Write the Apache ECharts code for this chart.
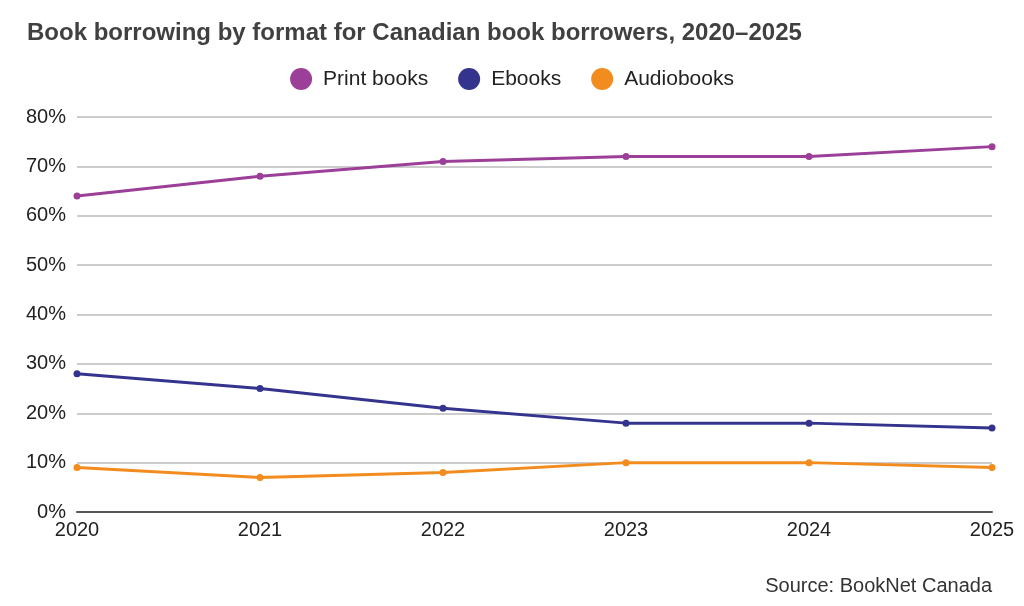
<!DOCTYPE html>
<html>
<head>
<meta charset="utf-8">
<script src="https://cdn.jsdelivr.net/npm/echarts@6/dist/echarts.min.js"></script>
<style>
  html, body { margin: 0; padding: 0; background: #fff; }
  #main { width: 1024px; height: 606px; }
</style>
</head>
<body>
<div id="main"></div>
<script>
var years = ['2020', '2021', '2022', '2023', '2024', '2025'];
var printBooks = [64, 68, 71, 72, 72, 74];
var ebooks = [28, 25, 21, 18, 18, 17];
var audiobooks = [9, 7, 8, 10, 10, 9];

var font = 'Liberation Sans, Arial, sans-serif';

function line(name, data, color) {
    return {
        name: name,
        type: 'line',
        data: data,
        symbol: 'circle',
        symbolSize: 7,
        lineStyle: { width: 3, color: color },
        itemStyle: { color: color },
        emphasis: { disabled: true }
    };
}

var myChart = echarts.init(document.getElementById('main'));
myChart.setOption({
    animation: false,
    textStyle: { fontFamily: font },
    title: [
        {
            text: 'Book borrowing by format for Canadian book borrowers, 2020\u20132025',
            left: 22,
            top: 16,
            textStyle: { fontSize: 24, fontWeight: 'bold', color: '#404040', fontFamily: font }
        },
        {
            text: 'Source: BookNet Canada',
            right: 27,
            top: 571,
            textStyle: { fontSize: 20, fontWeight: 'normal', color: '#333', fontFamily: font }
        }
    ],
    legend: {
        top: 63,
        left: 'center',
        icon: 'circle',
        itemWidth: 22,
        itemHeight: 22,
        itemGap: 30,
        textStyle: { fontSize: 21, color: '#222', fontFamily: font, padding: [0, 0, 0, 6] }
    },
    grid: { left: 77, right: 32, top: 117, bottom: 94 },
    xAxis: {
        type: 'category',
        data: years,
        boundaryGap: false,
        axisLine: { lineStyle: { color: '#555', width: 2 } },
        axisTick: { show: false },
        axisLabel: { fontSize: 20, color: '#222', margin: 8, fontFamily: font,
            alignMinLabel: 'center', alignMaxLabel: 'center' }
    },
    yAxis: {
        type: 'value',
        min: 0,
        max: 80,
        interval: 10,
        axisLabel: { formatter: '{value}%', fontSize: 20, color: '#222', margin: 11, fontFamily: font },
        splitLine: { lineStyle: { color: '#cccccc', width: 2 } },
        axisLine: { show: false },
        axisTick: { show: false }
    },
    series: [
        line('Print books', printBooks, '#9b3f98'),
        line('Ebooks', ebooks, '#34348f'),
        line('Audiobooks', audiobooks, '#f28c1e')
    ]
});
</script>
</body>
</html>
